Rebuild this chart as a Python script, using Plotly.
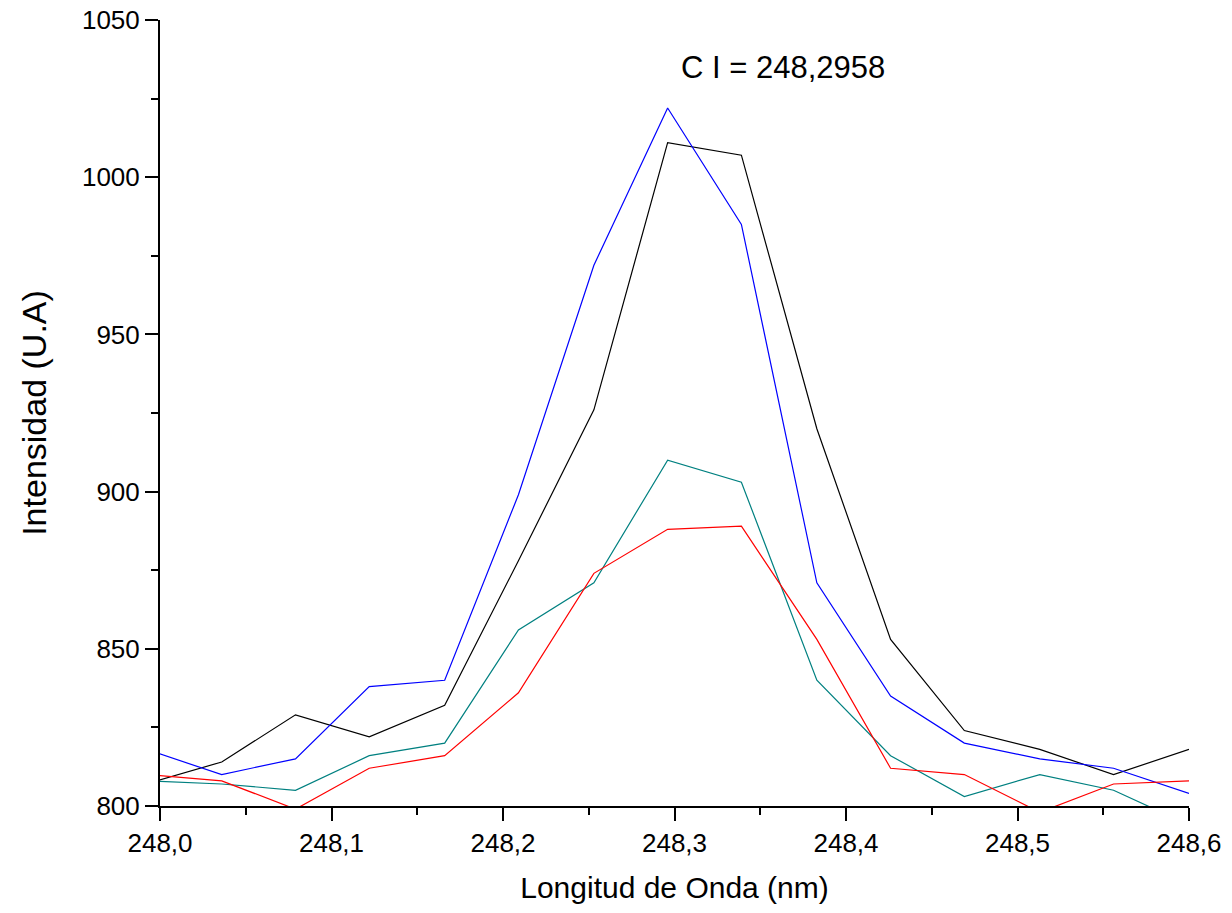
import plotly.graph_objects as go

wavelength = [247.992, 248.036, 248.079, 248.122, 248.166, 248.209, 248.253, 248.296,
              248.339, 248.383, 248.426, 248.469, 248.513, 248.556, 248.600]
serie_negra = [807, 814, 829, 822, 832, 878, 926, 1011, 1007, 920, 853, 824, 818, 810, 818]
serie_azul = [818, 810, 815, 838, 840, 899, 972, 1022, 985, 871, 835, 820, 815, 812, 804]
serie_verde = [808, 807, 805, 816, 820, 856, 871, 910, 903, 840, 816, 803, 810, 805, 794]
serie_roja = [810, 808, 799, 812, 816, 836, 874, 888, 889, 853, 812, 810, 798, 807, 808]

x_ticks = [248.0, 248.1, 248.2, 248.3, 248.4, 248.5, 248.6]
x_ticklabels = ["248,0", "248,1", "248,2", "248,3", "248,4", "248,5", "248,6"]
y_ticks = [800, 850, 900, 950, 1000, 1050]

FONT = "Arial, Liberation Sans, sans-serif"

fig = go.Figure()
for ys, col in [(serie_negra, "#000000"), (serie_azul, "#0000FF"),
                (serie_verde, "#008080"), (serie_roja, "#FF0000")]:
    fig.add_trace(go.Scatter(x=wavelength, y=ys, mode="lines",
                             line=dict(color=col, width=1.2), showlegend=False))

fig.update_layout(
    width=1232, height=913,
    margin=dict(l=160, r=43, t=20, b=107, autoexpand=False),
    plot_bgcolor="white", paper_bgcolor="white",
    font=dict(family=FONT, color="black"),
    separators=",.",
)
fig.update_xaxes(
    range=[248.0, 248.6], showgrid=False, zeroline=False, automargin=False,
    showline=True, linecolor="black", linewidth=2,
    tickmode="array", tickvals=x_ticks, ticktext=x_ticklabels,
    ticks="outside", ticklen=13, tickwidth=2, tickcolor="black",
    tickfont=dict(size=26, family=FONT),
    minor=dict(ticks="outside", ticklen=7, tickwidth=1.5, tickcolor="black", dtick=0.05, tick0=248.0, showgrid=False),
    title=dict(text="Longitud de Onda (nm)", font=dict(size=30, family=FONT), standoff=20),
)
fig.update_yaxes(
    range=[800, 1050], showgrid=False, zeroline=False, automargin=False,
    showline=True, linecolor="black", linewidth=2,
    tickmode="array", tickvals=y_ticks,
    ticks="outside", ticklen=13, tickwidth=2, tickcolor="black",
    tickfont=dict(size=26, family=FONT),
    minor=dict(ticks="outside", ticklen=7, tickwidth=1.5, tickcolor="black", dtick=25, tick0=800, showgrid=False),
    title=dict(text="Intensidad (U.A)", font=dict(size=34, family=FONT), standoff=25),
)
fig.add_annotation(x=248.363, y=1035, xref="x", yref="y", text="C I = 248,2958",
                   showarrow=False, font=dict(size=31, family=FONT, color="black"),
                   xanchor="center", yanchor="middle")

fig.write_html("out.html")
